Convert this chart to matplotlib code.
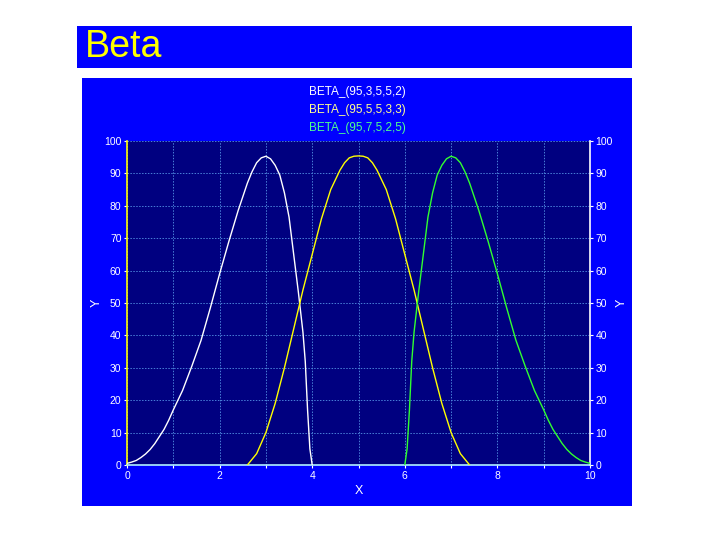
import matplotlib.pyplot as plt
from matplotlib.patches import Rectangle

# data
beta1_x = [0, 0.1, 0.2, 0.3, 0.4, 0.5, 0.6, 0.7, 0.8, 0.9, 1.0, 1.2, 1.4, 1.6, 1.8,
           2.0, 2.2, 2.4, 2.6, 2.7, 2.8, 2.9, 3.0, 3.1, 3.2, 3.3, 3.4, 3.5, 3.6,
           3.7, 3.8, 3.85, 3.9, 3.95, 4.0]
beta1_y = [0.5, 0.9, 1.4, 2.3, 3.4, 4.8, 6.6, 8.8, 11, 13.8, 17, 23, 30.5, 38.5, 48.5,
           59, 69, 78.5, 87, 90.5, 93.3, 94.8, 95.3, 94.5, 92.5, 89.5, 84, 76.5, 65,
           53.5, 41, 32, 17, 5, 0]

beta2_x = [2.6, 2.8, 3.0, 3.2, 3.4, 3.6, 3.8, 4.0, 4.2, 4.4, 4.6, 4.7, 4.8, 4.9, 5.0,
           5.1, 5.2, 5.3, 5.4, 5.6, 5.8, 6.0, 6.2, 6.4, 6.6, 6.8, 7.0, 7.2, 7.4]
beta2_y = [0, 3.5, 10, 19, 30, 42, 54, 65, 76, 85, 91, 93.3, 94.8, 95.3, 95.4,
           95.3, 94.8, 93.3, 91, 85, 76, 65, 54, 42, 30, 19, 10, 3.5, 0]

beta3_x = [6.0, 6.05, 6.1, 6.15, 6.2, 6.3, 6.4, 6.5, 6.6, 6.7, 6.8, 6.9, 7.0, 7.1, 7.2,
           7.3, 7.4, 7.6, 7.8, 8.0, 8.2, 8.4, 8.6, 8.8, 9.0, 9.1, 9.2, 9.3, 9.4, 9.5,
           9.6, 9.7, 9.8, 9.9, 10.0]
beta3_y = [0, 5, 17, 32, 41, 53.5, 65, 76.5, 84, 89.5, 92.5, 94.5, 95.3, 94.8, 93.3,
           90.5, 87, 78.5, 69, 59, 48.5, 38.5, 30.5, 23, 17, 13.8, 11, 8.8, 6.6, 4.8,
           3.4, 2.3, 1.4, 0.9, 0.5]

labels = ["BETA_(95,3,5,5,2)", "BETA_(95,5,5,3,3)", "BETA_(95,7,5,2,5)"]
colors = ["#FFFFFF", "#FFFF00", "#30FF30"]
label_colors = ["#FFFFFF", "#FFFF90", "#50FF90"]

plt.rcParams['font.family'] = ['Liberation Sans', 'DejaVu Sans']

fig = plt.figure(figsize=(7.2, 5.4), dpi=100)
fig.patch.set_facecolor("white")

W, H = 720.0, 540.0
# title bar
fig.patches.append(Rectangle((77 / W, 1 - 68 / H), (632 - 77) / W, (68 - 26) / H,
                             transform=fig.transFigure, facecolor="#0000FF",
                             edgecolor="none", zorder=-2))
fig.text(85 / W, 1 - 47 / H, "Beta", color="#FFFF00", fontsize=27, va="center", ha="left")

# chart panel
fig.patches.append(Rectangle((82 / W, 1 - 506 / H), (632 - 82) / W, (506 - 78) / H,
                             transform=fig.transFigure, facecolor="#0000FF",
                             edgecolor="none", zorder=-2))

ax = fig.add_axes([127 / W, 1 - 465 / H, (590 - 127) / W, (465 - 141) / H])
ax.set_facecolor("#000080")
ax.plot(beta1_x, beta1_y, color=colors[0], lw=1.0, zorder=3)
ax.plot(beta2_x, beta2_y, color=colors[1], lw=1.0, zorder=3)
ax.plot(beta3_x, beta3_y, color=colors[2], lw=1.0, zorder=3)

ax.set_xlim(0, 10)
ax.set_ylim(0, 100)
ax.set_xticks(range(0, 11))
ax.set_xticklabels([str(v) if v % 2 == 0 else "" for v in range(0, 11)])
ax.set_yticks(range(0, 101, 10))
ax.grid(True, color="#4A80D8", linestyle=(0, (1.5, 1.5)), linewidth=0.7)
ax.tick_params(colors="white", labelsize=7.5, length=2, width=0.8, pad=2)

ax.spines["left"].set_color("#FFFF00")
ax.spines["right"].set_color("white")
ax.spines["bottom"].set_color("#B0F0FF")
ax.spines["top"].set_visible(False)
for s in ax.spines.values():
    s.set_linewidth(1.2)

ax2 = ax.twinx()
ax2.set_ylim(0, 100)
ax2.set_yticks(range(0, 101, 10))
ax2.tick_params(colors="white", labelsize=7.5, length=2, width=0.8, pad=2)
for s in ax2.spines.values():
    s.set_visible(False)

ax.set_xlabel("X", color="white", fontsize=9, labelpad=3)
ax.set_ylabel("Y", color="white", fontsize=9, labelpad=1)
ax2.set_ylabel("Y", color="white", fontsize=9, labelpad=2)

# legend as plain coloured text
for i, (lab, c) in enumerate(zip(labels, label_colors)):
    fig.text(357 / W, 1 - (92 + 18 * i) / H, lab, color=c, fontsize=8.5,
             ha="center", va="center")

fig.savefig("out.png", dpi=100)
